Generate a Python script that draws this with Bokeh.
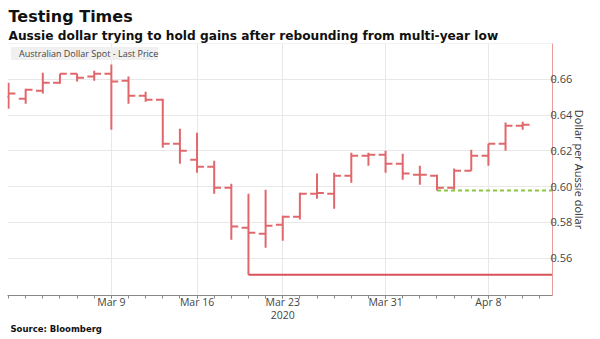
from bokeh.plotting import figure
from bokeh.models import (ColumnDataSource, FixedTicker, Title, Legend, LegendItem,
                          LinearAxis, Span, NumeralTickFormatter, Range1d)
from bokeh.embed import file_html
from bokeh.resources import INLINE

# Trading days (x = index)
dates = ["Feb 28", "Mar 2", "Mar 3", "Mar 4", "Mar 5", "Mar 6",
         "Mar 9", "Mar 10", "Mar 11", "Mar 12", "Mar 13",
         "Mar 16", "Mar 17", "Mar 18", "Mar 19", "Mar 20",
         "Mar 23", "Mar 24", "Mar 25", "Mar 26", "Mar 27",
         "Mar 30", "Mar 31", "Apr 1", "Apr 2", "Apr 3",
         "Apr 6", "Apr 7", "Apr 8", "Apr 9", "Apr 10"]
open_ = [0.6503, 0.6492, 0.6536, 0.6581, 0.6631, 0.6615, 0.6631, 0.6592, 0.6508, 0.6486,
         0.6240, 0.6151, 0.6112, 0.5994, 0.5771, 0.5737, 0.5788, 0.5832, 0.5961, 0.5961,
         0.6061, 0.6173, 0.6179, 0.6128, 0.6067, 0.6061, 0.5994, 0.6089, 0.6173, 0.6240, 0.6341]
high = [0.6581, 0.6547, 0.6637, 0.6631, 0.6631, 0.6648, 0.6682, 0.6615, 0.6531, 0.6492,
        0.6324, 0.6302, 0.6145, 0.6017, 0.5961, 0.5983, 0.5838, 0.5966, 0.6073, 0.6078,
        0.6190, 0.6190, 0.6201, 0.6184, 0.6117, 0.6067, 0.6101, 0.6207, 0.6240, 0.6358, 0.6363]
low = [0.6436, 0.6464, 0.6520, 0.6575, 0.6587, 0.6592, 0.6318, 0.6464, 0.6475, 0.6218,
       0.6128, 0.6078, 0.5961, 0.5704, 0.5508, 0.5659, 0.5698, 0.5816, 0.5933, 0.5877,
       0.6022, 0.6117, 0.6078, 0.6039, 0.6011, 0.5978, 0.5983, 0.6089, 0.6117, 0.6201, 0.6318]
close = [0.6520, 0.6542, 0.6581, 0.6631, 0.6609, 0.6631, 0.6587, 0.6508, 0.6486, 0.6240,
         0.6201, 0.6112, 0.5994, 0.5777, 0.5743, 0.5782, 0.5832, 0.5961, 0.5965, 0.6061,
         0.6173, 0.6179, 0.6128, 0.6073, 0.6067, 0.5994, 0.6089, 0.6173, 0.6240, 0.6341, 0.6346]
tick_dates = ["Mar 9", "Mar 16", "Mar 23", "Mar 31", "Apr 8"]
year_label = ("Mar 23", "2020")
y_ticks = [0.56, 0.58, 0.60, 0.62, 0.64, 0.66]
series_name = "Australian Dollar Spot - Last Price"
low_day = "Mar 19"        # multi-year low
support_day = "Apr 3"     # recent support low

BAR = "#e0676b"
LOWC = "#d9525a"
GREEN = "#8cc63e"
X_END = 31.74
hw = 0.40

x = list(range(len(dates)))
src = ColumnDataSource(dict(x=x, xl=[i - hw for i in x], xr=[i + hw for i in x],
                            o=open_, h=high, l=low, c=close))

p = figure(width=600, height=339, x_range=Range1d(-0.06, X_END), y_range=Range1d(0.5392, 0.68),
           output_backend="svg", toolbar_location=None, y_axis_location="right",
           min_border=0, min_border_left=7, min_border_right=48, min_border_top=43,
           min_border_bottom=44)
p.background_fill_color = "white"
p.border_fill_color = "white"
p.outline_line_color = None

p.segment(x0="x", y0="l", x1="x", y1="h", source=src, line_color=BAR, line_width=2)
p.segment(x0="xl", y0="o", x1="x", y1="o", source=src, line_color=BAR, line_width=2)
p.segment(x0="x", y0="c", x1="xr", y1="c", source=src, line_color=BAR, line_width=2)

li = dates.index(low_day)
p.segment(x0=[li], y0=[low[li]], x1=[X_END], y1=[low[li]], line_color=LOWC, line_width=2)
si = dates.index(support_day)
p.segment(x0=[si], y0=[low[si]], x1=[X_END], y1=[low[si]], line_color=GREEN, line_width=2,
          line_dash="4 3")

p.add_layout(Span(location=0.68, dimension="width", line_color="#e8e8e8", line_width=1))

sq = p.scatter(x=[], y=[], marker="square", size=6, color=BAR)
legend = Legend(items=[LegendItem(label=series_name, renderers=[sq])], location="top_left",
                background_fill_color="#f0f0f0", background_fill_alpha=1, border_line_color=None,
                label_text_font="Open Sans", label_text_font_size="9px", label_text_color="#444",
                glyph_width=6, glyph_height=6, label_height=13, padding=2, margin=4, spacing=0,
                label_standoff=2)
p.add_layout(legend)

# axes
xa = p.xaxis[0]
tick_pos = [dates.index(d) for d in tick_dates]
xa.ticker = FixedTicker(ticks=tick_pos, minor_ticks=list(range(0, 32)))
xa.major_label_overrides = {i: d for i, d in zip(tick_pos, tick_dates)}
xa.axis_line_color = "#888888"
xa.major_tick_line_color = "#888888"
xa.minor_tick_line_color = "#888888"
xa.major_tick_in = 0
xa.major_tick_out = 3
xa.minor_tick_in = 0
xa.minor_tick_out = 3
xa.major_label_standoff = -4
xa.axis_label_standoff = 0
xa.major_label_text_font = "Open Sans"
xa.major_label_text_font_size = "10.5px"
xa.major_label_text_color = "#444444"

yi = dates.index(year_label[0])
xa2 = LinearAxis(ticker=FixedTicker(ticks=[yi]), major_label_overrides={yi: year_label[1]},
                 axis_line_color=None, major_tick_line_color=None, minor_tick_line_color=None,
                 major_tick_out=0, major_tick_in=0, minor_tick_out=0, minor_tick_in=0,
                 major_label_standoff=-1, axis_label_standoff=0, major_label_text_font="Open Sans",
                 major_label_text_font_size="10.5px", major_label_text_color="#444444")
p.add_layout(xa2, "below")

ya = p.yaxis[0]
ya.ticker = FixedTicker(ticks=y_ticks)
ya.formatter = NumeralTickFormatter(format="0.00")
ya.axis_line_color = "#eb9a9a"
ya.major_tick_line_color = "#999999"
ya.minor_tick_line_color = None
ya.major_tick_in = 0
ya.major_tick_out = 3
ya.major_label_standoff = -5
ya.major_label_text_font = "Open Sans"
ya.major_label_text_font_size = "11px"
ya.major_label_text_color = "#444444"
ya.axis_label = "Dollar per Aussie dollar"
ya.axis_label_text_font = "Open Sans"
ya.axis_label_text_font_style = "normal"
ya.axis_label_text_font_size = "11px"
ya.axis_label_text_color = "#333333"
ya.axis_label_standoff = -3

p.xgrid.grid_line_color = "#e8e8e8"
p.ygrid.grid_line_color = "#e8e8e8"

# titles
p.title.text = "Testing Times"
p.title.text_font = "DejaVu Sans"
p.title.text_font_style = "bold"
p.title.text_font_size = "16px"
p.title.text_color = "#111111"
p.title.align = "left"
p.title.offset = 1
p.title.standoff = 0
p.add_layout(Title(text="Aussie dollar trying to hold gains after rebounding from multi-year low",
                   text_font="DejaVu Sans", text_font_style="bold", text_font_size="12.2px",
                   text_color="#111111", align="left", offset=1, standoff=2), "above")
p.add_layout(Title(text="Source: Bloomberg", text_font="DejaVu Sans", text_font_style="bold",
                   text_font_size="8.5px", text_color="#111111", align="left", offset=3,
                   standoff=0), "below")

open("out.html", "w").write(file_html(p, INLINE))
